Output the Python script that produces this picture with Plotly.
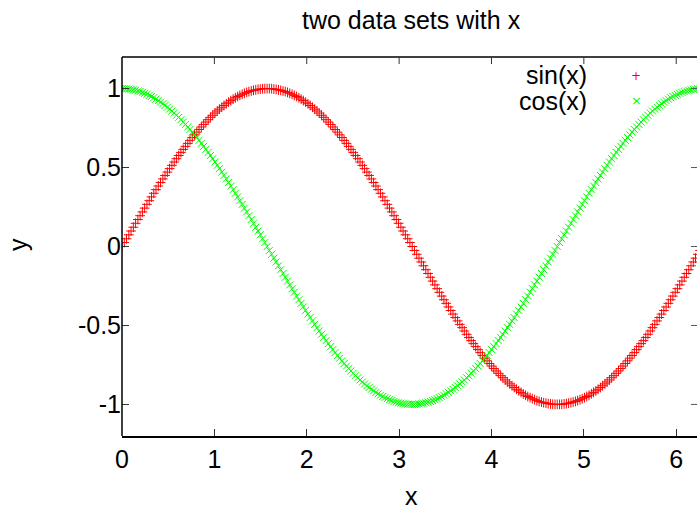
import plotly.graph_objects as go

title_text = "two data sets with x"
x_label = "x"
y_label = "y"
series_names = ["sin(x)", "cos(x)"]
x_tickvals = [0, 1, 2, 3, 4, 5, 6]
y_tickvals = [-1, -0.5, 0, 0.5, 1]
y_ticktext = ["-1", "-0.5", "0", "0.5", "1"]

x_vals = [
    0.000, 0.025, 0.049, 0.074, 0.098, 0.123, 0.147, 0.172, 0.196, 0.221,
    0.245, 0.270, 0.295, 0.319, 0.344, 0.368, 0.393, 0.417, 0.442, 0.466,
    0.491, 0.515, 0.540, 0.565, 0.589, 0.614, 0.638, 0.663, 0.687, 0.712,
    0.736, 0.761, 0.785, 0.810, 0.834, 0.859, 0.884, 0.908, 0.933, 0.957,
    0.982, 1.006, 1.031, 1.055, 1.080, 1.104, 1.129, 1.154, 1.178, 1.203,
    1.227, 1.252, 1.276, 1.301, 1.325, 1.350, 1.374, 1.399, 1.424, 1.448,
    1.473, 1.497, 1.522, 1.546, 1.571,
    1.595, 1.620, 1.644, 1.669, 1.694, 1.718, 1.743, 1.767, 1.792, 1.816,
    1.841, 1.865, 1.890, 1.915, 1.939, 1.963, 1.988, 2.013, 2.037, 2.062,
    2.086, 2.111, 2.135, 2.160, 2.184, 2.209, 2.233, 2.258, 2.283, 2.307,
    2.332, 2.356, 2.381, 2.405, 2.430, 2.454, 2.479, 2.503, 2.528, 2.553,
    2.577, 2.602, 2.626, 2.651, 2.675, 2.700, 2.724, 2.749, 2.773, 2.798,
    2.823, 2.847, 2.872, 2.896, 2.921, 2.945, 2.970, 2.994, 3.019, 3.043,
    3.068, 3.093, 3.117, 3.142,
    3.166, 3.191, 3.215, 3.240, 3.264, 3.289, 3.313, 3.338, 3.363, 3.387,
    3.412, 3.436, 3.461, 3.485, 3.510, 3.534, 3.559, 3.583, 3.608, 3.633,
    3.657, 3.682, 3.706, 3.731, 3.755, 3.780, 3.804, 3.829, 3.853, 3.878,
    3.903, 3.927, 3.952, 3.976, 4.001, 4.025, 4.050, 4.074, 4.099, 4.123,
    4.148, 4.172, 4.197, 4.222, 4.246, 4.271, 4.295, 4.320, 4.344, 4.369,
    4.393, 4.418, 4.442, 4.467, 4.492, 4.516, 4.541, 4.565, 4.590, 4.614,
    4.639, 4.663, 4.688, 4.712,
    4.737, 4.761, 4.786, 4.811, 4.835, 4.860, 4.884, 4.909, 4.933, 4.958,
    4.982, 5.007, 5.031, 5.056, 5.081, 5.105, 5.130, 5.154, 5.179, 5.203,
    5.228, 5.252, 5.277, 5.301, 5.326, 5.350, 5.375, 5.400, 5.424, 5.449,
    5.473, 5.498, 5.522, 5.547, 5.571, 5.596, 5.620, 5.645, 5.670, 5.694,
    5.719, 5.743, 5.768, 5.792, 5.817, 5.841, 5.866, 5.890, 5.915, 5.940,
    5.964, 5.989, 6.013, 6.038, 6.062, 6.087, 6.111, 6.136, 6.160, 6.185,
    6.209, 6.234, 6.258,
]

sin_vals = [
    0.000, 0.025, 0.049, 0.074, 0.098, 0.122, 0.147, 0.171, 0.195, 0.219,
    0.243, 0.267, 0.290, 0.314, 0.337, 0.360, 0.383, 0.405, 0.428, 0.450,
    0.471, 0.493, 0.514, 0.535, 0.556, 0.576, 0.596, 0.615, 0.634, 0.653,
    0.672, 0.690, 0.707, 0.724, 0.741, 0.757, 0.773, 0.788, 0.803, 0.818,
    0.831, 0.845, 0.858, 0.870, 0.882, 0.893, 0.904, 0.914, 0.924, 0.933,
    0.942, 0.950, 0.957, 0.964, 0.970, 0.976, 0.981, 0.985, 0.989, 0.992,
    0.995, 0.997, 0.999, 1.000, 1.000,
    1.000, 0.999, 0.997, 0.995, 0.992, 0.989, 0.985, 0.981, 0.976, 0.970,
    0.964, 0.957, 0.950, 0.942, 0.933, 0.924, 0.914, 0.904, 0.893, 0.882,
    0.870, 0.858, 0.845, 0.831, 0.818, 0.803, 0.788, 0.773, 0.757, 0.741,
    0.724, 0.707, 0.690, 0.672, 0.653, 0.634, 0.615, 0.596, 0.576, 0.556,
    0.535, 0.514, 0.493, 0.471, 0.450, 0.428, 0.405, 0.383, 0.360, 0.337,
    0.314, 0.290, 0.267, 0.243, 0.219, 0.195, 0.171, 0.147, 0.122, 0.098,
    0.074, 0.049, 0.025, 0.000,
    -0.025, -0.049, -0.074, -0.098, -0.122, -0.147, -0.171, -0.195, -0.219, -0.243,
    -0.267, -0.290, -0.314, -0.337, -0.360, -0.383, -0.405, -0.428, -0.450, -0.471,
    -0.493, -0.514, -0.535, -0.556, -0.576, -0.596, -0.615, -0.634, -0.653, -0.672,
    -0.690, -0.707, -0.724, -0.741, -0.757, -0.773, -0.788, -0.803, -0.818, -0.831,
    -0.845, -0.858, -0.870, -0.882, -0.893, -0.904, -0.914, -0.924, -0.933, -0.942,
    -0.950, -0.957, -0.964, -0.970, -0.976, -0.981, -0.985, -0.989, -0.992, -0.995,
    -0.997, -0.999, -1.000, -1.000,
    -1.000, -0.999, -0.997, -0.995, -0.992, -0.989, -0.985, -0.981, -0.976, -0.970,
    -0.964, -0.957, -0.950, -0.942, -0.933, -0.924, -0.914, -0.904, -0.893, -0.882,
    -0.870, -0.858, -0.845, -0.831, -0.818, -0.803, -0.788, -0.773, -0.757, -0.741,
    -0.724, -0.707, -0.690, -0.672, -0.653, -0.634, -0.615, -0.596, -0.576, -0.556,
    -0.535, -0.514, -0.493, -0.471, -0.450, -0.428, -0.405, -0.383, -0.360, -0.337,
    -0.314, -0.290, -0.267, -0.243, -0.219, -0.195, -0.171, -0.147, -0.122, -0.098,
    -0.074, -0.049, -0.025,
]

cos_vals = [
    1.000, 1.000, 0.999, 0.997, 0.995, 0.992, 0.989, 0.985, 0.981, 0.976,
    0.970, 0.964, 0.957, 0.950, 0.942, 0.933, 0.924, 0.914, 0.904, 0.893,
    0.882, 0.870, 0.858, 0.845, 0.831, 0.818, 0.803, 0.788, 0.773, 0.757,
    0.741, 0.724, 0.707, 0.690, 0.672, 0.653, 0.634, 0.615, 0.596, 0.576,
    0.556, 0.535, 0.514, 0.493, 0.471, 0.450, 0.428, 0.405, 0.383, 0.360,
    0.337, 0.314, 0.290, 0.267, 0.243, 0.219, 0.195, 0.171, 0.147, 0.122,
    0.098, 0.074, 0.049, 0.025, 0.000,
    -0.025, -0.049, -0.074, -0.098, -0.122, -0.147, -0.171, -0.195, -0.219, -0.243,
    -0.267, -0.290, -0.314, -0.337, -0.360, -0.383, -0.405, -0.428, -0.450, -0.471,
    -0.493, -0.514, -0.535, -0.556, -0.576, -0.596, -0.615, -0.634, -0.653, -0.672,
    -0.690, -0.707, -0.724, -0.741, -0.757, -0.773, -0.788, -0.803, -0.818, -0.831,
    -0.845, -0.858, -0.870, -0.882, -0.893, -0.904, -0.914, -0.924, -0.933, -0.942,
    -0.950, -0.957, -0.964, -0.970, -0.976, -0.981, -0.985, -0.989, -0.992, -0.995,
    -0.997, -0.999, -1.000, -1.000,
    -1.000, -0.999, -0.997, -0.995, -0.992, -0.989, -0.985, -0.981, -0.976, -0.970,
    -0.964, -0.957, -0.950, -0.942, -0.933, -0.924, -0.914, -0.904, -0.893, -0.882,
    -0.870, -0.858, -0.845, -0.831, -0.818, -0.803, -0.788, -0.773, -0.757, -0.741,
    -0.724, -0.707, -0.690, -0.672, -0.653, -0.634, -0.615, -0.596, -0.576, -0.556,
    -0.535, -0.514, -0.493, -0.471, -0.450, -0.428, -0.405, -0.383, -0.360, -0.337,
    -0.314, -0.290, -0.267, -0.243, -0.219, -0.195, -0.171, -0.147, -0.122, -0.098,
    -0.074, -0.049, -0.025, 0.000,
    0.025, 0.049, 0.074, 0.098, 0.122, 0.147, 0.171, 0.195, 0.219, 0.243,
    0.267, 0.290, 0.314, 0.337, 0.360, 0.383, 0.405, 0.428, 0.450, 0.471,
    0.493, 0.514, 0.535, 0.556, 0.576, 0.596, 0.615, 0.634, 0.653, 0.672,
    0.690, 0.707, 0.724, 0.741, 0.757, 0.773, 0.788, 0.803, 0.818, 0.831,
    0.845, 0.858, 0.870, 0.882, 0.893, 0.904, 0.914, 0.924, 0.933, 0.942,
    0.950, 0.957, 0.964, 0.970, 0.976, 0.981, 0.985, 0.989, 0.992, 0.995,
    0.997, 0.999, 1.000,
]

assert len(x_vals) == 256, len(x_vals)
assert len(sin_vals) == 256, len(sin_vals)
assert len(cos_vals) == 256, len(cos_vals)

FONT = "Liberation Sans, Arial, Helvetica, sans-serif"
FS = 25
RED = "#ff0000"
GREEN = "#00ff00"

fig = go.Figure()
fig.add_trace(go.Scatter(
    x=x_vals, y=sin_vals, mode="markers", name=series_names[0],
    marker=dict(symbol="cross-thin", size=7, line=dict(color=RED, width=1)),
    showlegend=False, cliponaxis=True,
))
fig.add_trace(go.Scatter(
    x=x_vals, y=cos_vals, mode="markers", name=series_names[1],
    marker=dict(symbol="x-thin", size=7, line=dict(color=GREEN, width=1)),
    showlegend=False, cliponaxis=True,
))

# plot area: x from 122px to beyond the right edge, y from 57px to 436px
L, T, B = 122, 57, 79
W, H = 697, 515
pw = W - L
ph = H - T - B
TICK = 7

def px(xp):
    return (xp - L) / pw

def py(yp):
    return (H - B - yp) / ph

annotations = [
    dict(text=title_text, x=px(411), y=py(20), xref="paper", yref="paper",
         xanchor="center", yanchor="middle", showarrow=False,
         font=dict(family=FONT, size=FS, color="black")),
    dict(text=x_label, x=px(411), y=py(496), xref="paper", yref="paper",
         xanchor="center", yanchor="middle", showarrow=False,
         font=dict(family=FONT, size=FS, color="black")),
    dict(text=y_label, x=px(18), y=py(245), xref="paper", yref="paper",
         xanchor="center", yanchor="middle", showarrow=False, textangle=-90,
         font=dict(family=FONT, size=FS, color="black")),
    dict(text=series_names[0], x=px(589), y=py(75), xref="paper", yref="paper",
         xanchor="right", yanchor="middle", showarrow=False,
         font=dict(family=FONT, size=FS, color="black")),
    dict(text=series_names[1], x=px(589), y=py(101), xref="paper", yref="paper",
         xanchor="right", yanchor="middle", showarrow=False,
         font=dict(family=FONT, size=FS, color="black")),
    dict(text="+", x=px(636), y=py(76), xref="paper", yref="paper",
         xanchor="center", yanchor="middle", showarrow=False,
         font=dict(family="DejaVu Sans", size=12, color=RED)),
    dict(text="×", x=px(636), y=py(101), xref="paper", yref="paper",
         xanchor="center", yanchor="middle", showarrow=False,
         font=dict(family="DejaVu Sans", size=13, color=GREEN)),
]

shapes = [
    # left and top border
    dict(type="line", xref="paper", yref="paper", x0=0, x1=0, y0=0, y1=1,
         line=dict(color="black", width=1.5)),
    dict(type="line", xref="paper", yref="paper", x0=0, x1=1, y0=1, y1=1,
         line=dict(color="black", width=1.5)),
]
# mirrored ticks on the top border
for tv in x_tickvals[1:]:
    shapes.append(dict(type="line", xref="x", yref="paper", x0=tv, x1=tv,
                       y0=1, y1=1 - TICK / ph, line=dict(color="#333", width=1)))
# mirrored ticks on the (off-screen) right border
for tv in y_tickvals:
    shapes.append(dict(type="line", xref="paper", yref="y", x0=px(691), x1=1,
                       y0=tv, y1=tv, line=dict(color="#555", width=1)))

fig.update_layout(
    width=W, height=H,
    margin=dict(l=L, r=0, t=T, b=B, pad=0),
    paper_bgcolor="white", plot_bgcolor="white",
    showlegend=False,
    annotations=annotations,
    shapes=shapes,
    font=dict(family=FONT, size=FS, color="black"),
)
fig.update_xaxes(
    range=[0, 6.225], tickvals=x_tickvals, ticktext=[str(v) for v in x_tickvals],
    showgrid=False, zeroline=False, showline=True, linecolor="black", linewidth=1.5,
    ticks="inside", ticklen=TICK, tickcolor="#333", tickwidth=1,
    tickfont=dict(family=FONT, size=FS, color="black"),
)
fig.update_yaxes(
    range=[-1.2, 1.2], tickvals=y_tickvals, ticktext=y_ticktext,
    showgrid=False, zeroline=False, showline=False,
    ticks="inside", ticklen=TICK, tickcolor="#333", tickwidth=1,
    tickfont=dict(family=FONT, size=FS, color="black"),
)

fig.write_html(
    "out.html",
    config={"displayModeBar": False},
    post_script="document.body.style.margin='0px';document.body.style.overflow='hidden';",
)
